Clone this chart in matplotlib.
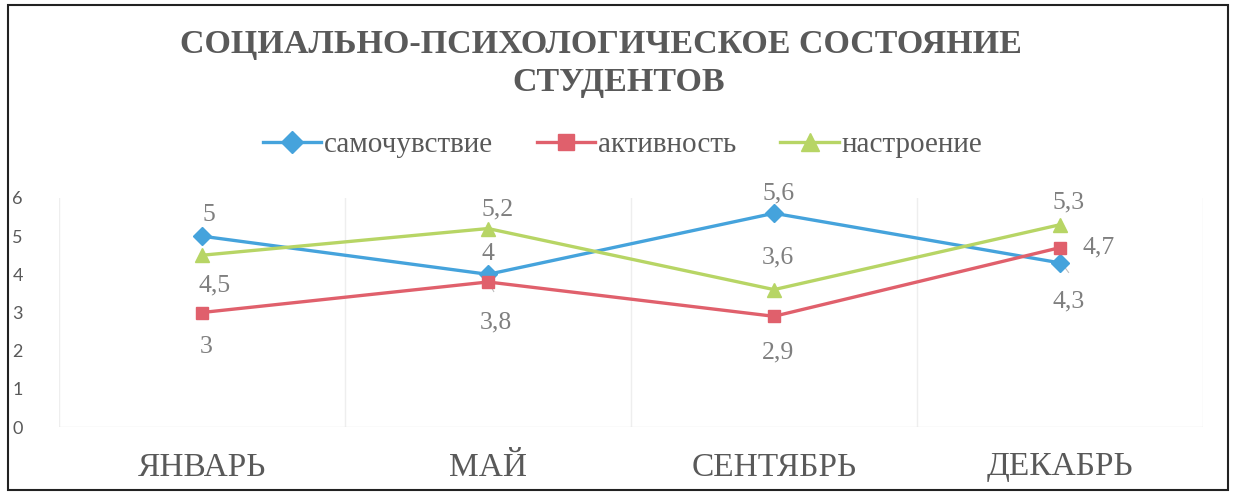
import matplotlib
matplotlib.use('Agg')
import matplotlib.pyplot as plt
from matplotlib.patches import Rectangle

months = ['ЯНВАРЬ', 'МАЙ', 'СЕНТЯБРЬ', 'ДЕКАБРЬ']
wellbeing = [5, 4, 5.6, 4.3]     # самочувствие
activity = [3, 3.8, 2.9, 4.7]    # активность
mood = [4.5, 5.2, 3.6, 5.3]      # настроение
yticks = [0, 1, 2, 3, 4, 5, 6]

gray = '#595959'
serif = 'Liberation Serif'

fig = plt.figure(figsize=(12.33, 4.95), dpi=100)
ax = fig.add_axes([59 / 1233, 1 - 427 / 495, (1203 - 59) / 1233, (427 - 198) / 495])

x = list(range(len(months)))
series = [
    ('самочувствие', wellbeing, '#45A3DC', 'D', 9),
    ('активность', activity, '#E0606C', 's', 9),
    ('настроение', mood, '#B7D565', '^', 10),
]
# where each data label sits: (dx, dy) in points from the marker
offsets = [
    [(5, 15), (0, 15), (3, 14), (6, -28)],
    [(3, -25), (6, -29), (3, -26), (28, 0)],
    [(9, -22), (7, 14), (3, 23), (6, 16)],
]

for (name, vals, col, mk, ms), offs in zip(series, offsets):
    ax.plot(x, vals, color=col, lw=2.4, marker=mk, markersize=ms, label=name, zorder=3)
    for xi, v, (dx, dy) in zip(x, vals, offs):
        txt = f'{v:g}'.replace('.', ',')
        ax.annotate(txt, (xi, v), xytext=(dx, dy), textcoords='offset points',
                    ha='center', va='center', fontsize=18.5, color='#7f7f7f',
                    family=serif, zorder=4)

# leader lines for the labels pushed away from their markers
ax.plot([1.005, 1.02], [3.75, 3.55], color='#bfbfbf', lw=0.8, zorder=2)
ax.plot([3.01, 3.03], [4.25, 4.05], color='#bfbfbf', lw=0.8, zorder=2)

ax.set_xlim(-0.5, 3.5)
ax.set_ylim(0, 6)
ax.set_xticks(x)
ax.set_xticklabels(months, fontsize=24, color=gray, family=serif)
ax.set_yticks(yticks)
ax.set_yticklabels([str(t) for t in yticks], fontsize=13, color=gray, family='Lato')
ax.tick_params(length=0)
ax.tick_params(axis='x', pad=18)
ax.tick_params(axis='y', pad=26)
for s in ax.spines.values():
    s.set_visible(False)
for b in [-0.5, 0.5, 1.5, 2.5, 3.5]:
    ax.axvline(b, color='#eeeeee', lw=1, zorder=1)
ax.axhline(0, color='#e6e6e6', lw=1, zorder=1)

fig.text(0.487, 1 - 44 / 495, 'СОЦИАЛЬНО-ПСИХОЛОГИЧЕСКОЕ СОСТОЯНИЕ', ha='center', va='center',
         fontsize=24.5, fontweight='bold', color=gray, family=serif)
fig.text(0.502, 1 - 82 / 495, 'СТУДЕНТОВ', ha='center', va='center',
         fontsize=24.5, fontweight='bold', color=gray, family=serif)

fig.legend(loc='center', bbox_to_anchor=(0.505, 1 - 145 / 495), ncol=3, frameon=False,
           prop={'family': serif, 'size': 21}, labelcolor=gray, handlelength=2.0,
           handletextpad=0.1, columnspacing=1.5, markerscale=1.25)

fig.add_artist(Rectangle((8 / 1233, 1 - 490 / 495), 1220 / 1233, 485 / 495,
                         transform=fig.transFigure, fill=False, ec='#222222', lw=1.5))

fig.savefig('out.png', dpi=100)
